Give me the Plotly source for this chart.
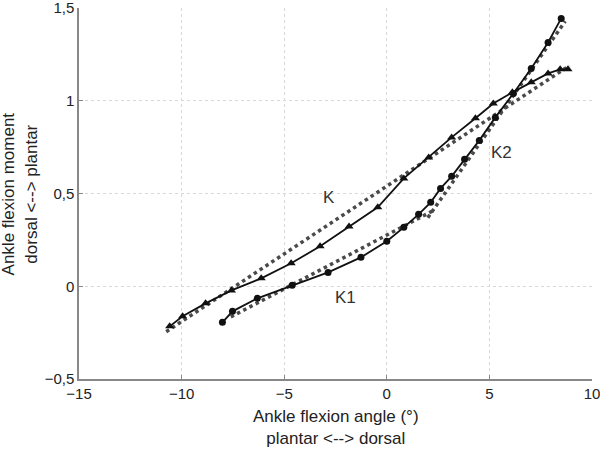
import plotly.graph_objects as go

# K curve (triangles)
k_angle = [-10.58, -9.95, -8.83, -7.57, -6.12, -4.66, -3.25, -1.84, -0.44, 0.83,
           2.04, 3.16, 4.32, 5.19, 6.12, 7.04, 7.86, 8.45, 8.83]
k_moment = [-0.216, -0.162, -0.092, -0.022, 0.043, 0.124, 0.216, 0.323, 0.426, 0.582,
            0.695, 0.803, 0.906, 0.986, 1.046, 1.10, 1.148, 1.17, 1.17]

# K1/K2 curve (circles)
k1_angle = [-8.01, -7.52, -6.31, -4.61, -2.86, -1.26, 0.0, 0.83, 1.55, 2.14,
            2.62, 3.16, 3.79, 4.51, 5.29, 6.17, 7.04, 7.86, 8.50]
k1_moment = [-0.194, -0.135, -0.065, 0.005, 0.075, 0.156, 0.243, 0.318, 0.388, 0.453,
             0.528, 0.593, 0.685, 0.787, 0.911, 1.040, 1.175, 1.315, 1.445]

# linear fits (dotted)
fit_k_angle = [-10.75, 8.9]
fit_k_moment = [-0.245, 1.19]
fit_k1_angle = [-7.6, 2.3]
fit_k1_moment = [-0.165, 0.41]
fit_k2_angle = [2.0, 8.7]
fit_k2_moment = [0.37, 1.43]

x_ticks = [-15, -10, -5, 0, 5, 10]
x_ticktext = ["\u221215", "\u221210", "\u22125", "0", "5", "10"]
y_ticks = [-0.5, 0, 0.5, 1, 1.5]
y_ticktext = ["\u22120,5", "0", "0,5", "1", "1,5"]

FONT = "Liberation Sans, Arial, sans-serif"

fig = go.Figure()

dot_style = dict(color="#4a4a4a", width=3.5, dash="dot")
fig.add_trace(go.Scatter(x=fit_k_angle, y=fit_k_moment, mode="lines", line=dot_style))
fig.add_trace(go.Scatter(x=fit_k1_angle, y=fit_k1_moment, mode="lines", line=dot_style))
fig.add_trace(go.Scatter(x=fit_k2_angle, y=fit_k2_moment, mode="lines", line=dot_style))

fig.add_trace(go.Scatter(
    x=k_angle, y=k_moment, mode="lines+markers",
    line=dict(color="#111111", width=1.8),
    marker=dict(symbol="triangle-up", size=8, color="#111111")
))
fig.add_trace(go.Scatter(
    x=k1_angle, y=k1_moment, mode="lines+markers",
    line=dict(color="#111111", width=1.8),
    marker=dict(symbol="circle", size=7, color="#111111")
))

lbl_font = dict(family=FONT, size=17, color="#333333")
for txt, xx, yy in [("K", -2.8, 0.48), ("K1", -2.0, -0.06), ("K2", 5.6, 0.72)]:
    fig.add_annotation(x=xx, y=yy, text=txt, showarrow=False, font=lbl_font)

# axis titles
title_font = dict(family=FONT, size=17, color="#222222")
fig.add_annotation(x=0.5, y=-0.069, xref="paper", yref="paper", yanchor="top",
                   text="Ankle flexion angle (\u00b0)<br>plantar <--> dorsal",
                   showarrow=False, font=title_font)
fig.add_annotation(x=-0.159, y=0.5, xref="paper", yref="paper", xanchor="left",
                   text="Ankle flexion moment<br>dorsal <--> plantar", textangle=-90,
                   showarrow=False, font=title_font)

axis_common = dict(
    showline=True, linecolor="#888888", linewidth=1.5,
    ticks="inside", ticklen=4, tickcolor="#888888",
    showgrid=True, gridcolor="#d8d8d8", griddash="dot", gridwidth=1,
    zeroline=False, mirror=False, automargin=False,
    ticklabeloverflow="allow",
    tickfont=dict(family=FONT, size=15, color="#222222"),
)

fig.update_xaxes(range=[-15, 10.001], tickvals=x_ticks, ticktext=x_ticktext, **axis_common)
fig.update_yaxes(range=[-0.5, 1.501], tickvals=y_ticks, ticktext=y_ticktext, **axis_common)

fig.update_layout(
    width=600, height=450,
    margin=dict(l=79, r=8, t=8, b=71),
    plot_bgcolor="white", paper_bgcolor="white",
    showlegend=False,
)

# drop the default page margin so the figure sits at the window's corner
fig.write_html("out.html", config={"displayModeBar": False},
               post_script="document.body.style.margin='0';")
